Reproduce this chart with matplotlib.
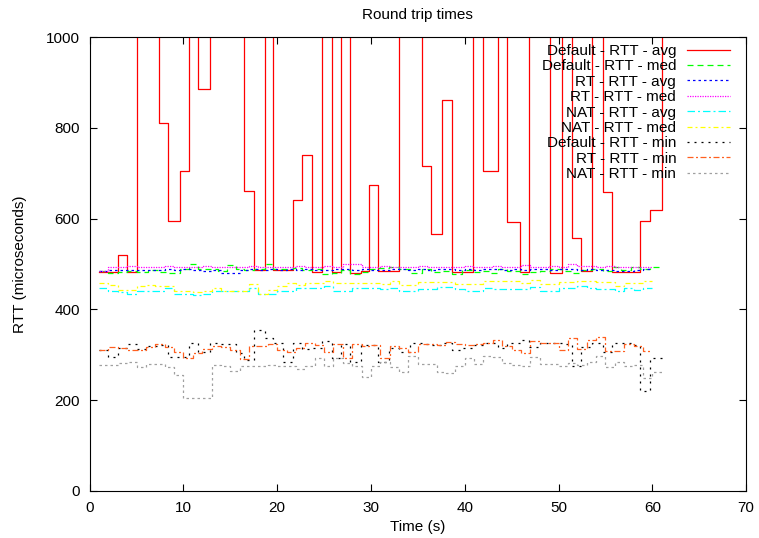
import matplotlib
matplotlib.use("Agg")
import matplotlib.pyplot as plt

plt.rcParams['font.family'] = ['Liberation Sans', 'DejaVu Sans']

# ---- data ----
t_def = [1.0, 2.0, 3.0, 3.97, 5.03, 6.2, 7.37, 8.36, 9.6, 10.6,
         11.55, 12.8, 13.7, 14.6, 15.55, 16.5, 17.5, 18.65, 19.6, 20.6,
         21.66, 22.66, 23.7, 24.8, 25.8, 26.8, 27.8, 28.9, 29.8, 30.8,
         31.9, 33.0, 34.2, 35.4, 36.4, 37.6, 38.6, 39.7, 40.85, 41.9,
         42.7, 43.5, 44.5, 45.85, 46.9, 48.0, 49.1, 50.4, 51.4, 52.4,
         53.6, 54.7, 55.7, 56.7, 57.7, 58.7, 59.8, 61.0]
t_rt = list(range(1, 61))
t_nat = list(range(1, 61))
t_nat_min = list(range(1, 62))

default_avg = [483, 483, 520, 483, 1100, 1100, 810, 595, 705, 1100,
               885, 1100, 1100, 1100, 1100, 660, 487, 1100, 487, 487,
               641, 740, 483, 1100, 483, 1100, 480, 485, 673, 485,
               485, 1100, 1100, 716, 566, 861, 483, 483, 1100, 705,
               705, 1100, 593, 483, 1100, 1100, 481, 1100, 558, 485,
               1100, 659, 483, 483, 483, 595, 619, 1100]
default_med = [484, 480, 482, 484, 482, 486, 483, 480, 488, 500,
               490, 488, 484, 498, 490, 486, 488, 500, 490, 488,
               492, 486, 490, 478, 480, 486, 478, 482, 490, 492,
               494, 490, 480, 488, 482, 484, 478, 486, 482, 484,
               480, 490, 484, 478, 482, 485, 488, 484, 480, 486,
               490, 484, 494, 486, 494, 490, 494, 494]
default_min = [310, 295, 316, 324, 313, 320, 322, 296, 296, 325,
               307, 327, 324, 324, 303, 288, 355, 336, 325, 285,
               327, 313, 315, 330, 293, 324, 284, 321, 321, 284,
               316, 307, 325, 324, 321, 326, 310, 315, 321, 325,
               325, 315, 326, 332, 318, 326, 325, 323, 276, 318,
               327, 307, 325, 325, 321, 220, 292, 292]
rt_avg = [484, 486, 487, 486, 487, 487, 486, 488, 486, 489,
          487, 485, 487, 480, 480, 486, 488, 487, 489, 486,
          488, 487, 488, 486, 487, 488, 489, 487, 488, 486,
          487, 488, 489, 487, 488, 486, 488, 489, 487, 488,
          487, 489, 488, 487, 488, 486, 489, 488, 487, 488,
          489, 487, 488, 486, 487, 485, 484, 486, 488, 489]
rt_med = [485, 494, 494, 495, 494, 493, 494, 495, 494, 493,
          494, 495, 494, 494, 493, 494, 495, 494, 493, 494,
          494, 495, 494, 494, 495, 494, 499, 499, 494, 494,
          495, 494, 493, 494, 495, 494, 494, 493, 494, 495,
          494, 494, 495, 493, 494, 497, 494, 494, 496, 494,
          499, 496, 496, 494, 496, 494, 493, 493, 493, 493]
rt_min = [311, 318, 316, 310, 310, 318, 323, 318, 307, 294,
          305, 313, 319, 318, 310, 290, 319, 319, 324, 310,
          307, 316, 325, 321, 307, 323, 294, 323, 320, 322,
          293, 320, 315, 307, 324, 324, 321, 328, 323, 321,
          323, 325, 332, 319, 310, 303, 331, 327, 325, 310,
          338, 313, 333, 339, 309, 309, 323, 319, 309, 309]
nat_avg = [448, 440, 439, 433, 441, 441, 441, 448, 434, 434,
           432, 434, 440, 440, 440, 440, 448, 435, 435, 440,
           440, 448, 448, 448, 451, 441, 441, 448, 448, 448,
           446, 448, 441, 441, 445, 445, 449, 449, 446, 441,
           441, 448, 445, 445, 445, 445, 449, 440, 440, 448,
           448, 452, 448, 446, 446, 441, 448, 443, 448, 448]
nat_med = [459, 453, 443, 442, 451, 454, 451, 451, 440, 441,
           438, 441, 448, 441, 441, 441, 457, 434, 442, 451,
           459, 453, 458, 458, 463, 458, 458, 458, 458, 458,
           456, 462, 453, 453, 461, 461, 460, 460, 456, 456,
           456, 462, 462, 462, 462, 458, 464, 456, 456, 460,
           460, 463, 463, 460, 460, 451, 458, 458, 462, 462]
nat_min = [277, 277, 282, 285, 274, 280, 279, 274, 255, 205,
           205, 205, 277, 276, 265, 276, 276, 275, 277, 275,
           275, 269, 276, 294, 276, 294, 283, 275, 250, 275,
           285, 274, 263, 297, 279, 279, 261, 259, 276, 294,
           280, 297, 295, 283, 277, 275, 295, 280, 279, 275,
           282, 278, 285, 297, 274, 285, 275, 277, 248, 261,
           261]

labels = ["Default - RTT - avg", "Default - RTT - med", "RT - RTT - avg",
          "RT - RTT - med", "NAT - RTT - avg", "NAT - RTT - med",
          "Default - RTT - min", "RT - RTT - min", "NAT - RTT - min"]
xticks = [0, 10, 20, 30, 40, 50, 60, 70]
yticks = [0, 200, 400, 600, 800, 1000]

# ---- plot ----
fig = plt.figure(figsize=(7.59, 5.38), dpi=100)
ax = fig.add_axes([0.1182, 0.0874, 0.8647, 0.8438])

series = [
    (t_def, default_avg, '#ff0000', '-'),
    (t_def, default_med, '#00ff00', (0, (4.8, 3.2))),
    (t_rt, rt_avg, '#0000ff', (0, (2.0, 2.4))),
    (t_rt, rt_med, '#ff00ff', (0, (1.0, 1.0))),
    (t_nat, nat_avg, '#00ffff', (0, (6.0, 2.4, 1.6, 2.4))),
    (t_nat, nat_med, '#ffff00', (0, (4.0, 2.4, 1.6, 2.4))),
    (t_def, default_min, '#000000', (0, (1.6, 4.0))),
    (t_rt, rt_min, '#ff6020', (0, (4.8, 2.0, 1.6, 2.0))),
    (t_nat_min, nat_min, '#a0a0a0', (0, (2.0, 2.4))),
]
for (x, y, c, ls), lab in zip(series, labels):
    ax.step(x, y, where='post', color=c, linestyle=ls, linewidth=0.9, label=lab)

ax.set_xlim(0, 70)
ax.set_ylim(0, 1000)
ax.set_xticks(xticks)
ax.set_yticks(yticks)
ax.tick_params(direction='in', top=True, right=True, length=5, width=0.8,
               labelsize=11, pad=7)
for s in ax.spines.values():
    s.set_linewidth(0.8)

ax.set_title("Round trip times", fontsize=11, pad=13)
ax.set_xlabel("Time (s)", fontsize=11, labelpad=4)
ax.set_ylabel("RTT (microseconds)", fontsize=11, labelpad=14)

leg = ax.legend(loc='upper right', bbox_to_anchor=(0.9878, 1.003),
                frameon=False, markerfirst=False,
                fontsize=11, handlelength=2.8, handletextpad=0.7,
                labelspacing=0.09, borderaxespad=0.35, borderpad=0.2)
for col in leg._legend_box._children[1]._children:
    col.align = "right"

fig.savefig("out.png", dpi=100)
